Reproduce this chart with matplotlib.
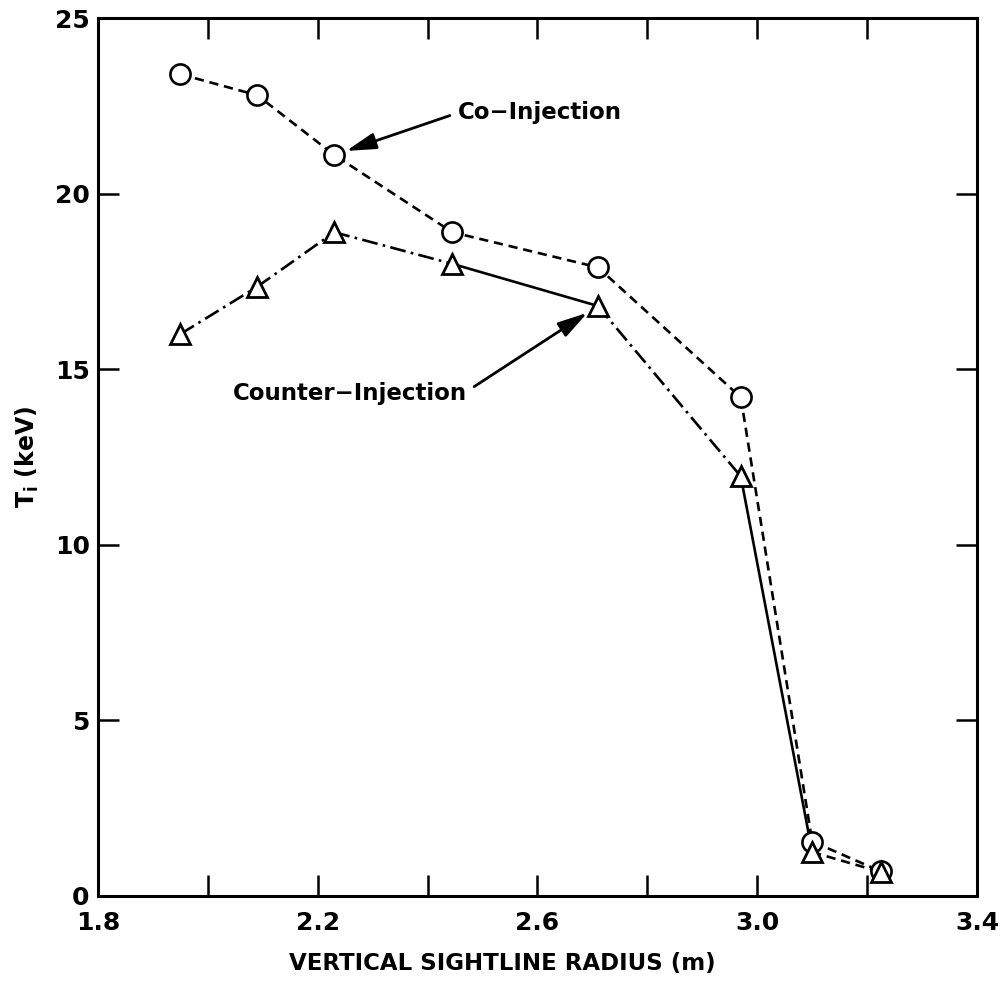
import numpy as np
import matplotlib
matplotlib.use("Agg")
import matplotlib.pyplot as plt

# -----------------------------
# Data: ion temperature profiles
# -----------------------------
radius = [1.95, 2.09, 2.23, 2.445, 2.71, 2.97, 3.10, 3.225]
ti_co = [23.4, 22.8, 21.1, 18.9, 17.9, 14.2, 1.55, 0.7]
ti_counter = [16.0, 17.35, 18.9, 18.0, 16.8, 11.95, 1.25, 0.68]

x_major = [1.8, 2.2, 2.6, 3.0, 3.4]
x_minor = [2.0, 2.4, 2.8, 3.2]
y_ticks = [0, 5, 10, 15, 20, 25]

# line style of each counter-injection segment (hand-drawn original mixes them)
counter_segments = ["dashdot", "dashdot", "dashdot", "solid", "dashdot", "solid", "dashed"]

plt.rcParams["font.family"] = "DejaVu Sans"
plt.rcParams["font.weight"] = "bold"

fig = plt.figure(figsize=(10.04, 9.85), dpi=100)
ax = fig.add_axes([0.0976, 0.0904, 0.8755, 0.8913])

lw = 1.9
dash_styles = {
    "dashed": dict(linestyle=(0, (3.5, 2.2))),
    "dashdot": dict(linestyle=(0, (6, 2, 1, 2))),
    "solid": dict(linestyle="-"),
}

# co-injection: dashed line, open circles
ax.plot(radius, ti_co, color="black", lw=lw, **dash_styles["dashed"], zorder=2)
ax.plot(radius, ti_co, linestyle="none", marker="o", markersize=14.5,
        markerfacecolor="white", markeredgecolor="black", markeredgewidth=1.9, zorder=3)

# counter-injection: segment by segment, open triangles
for i, style in enumerate(counter_segments):
    ax.plot(radius[i:i + 2], ti_counter[i:i + 2], color="black", lw=lw,
            **dash_styles[style], zorder=2)
ax.plot(radius, ti_counter, linestyle="none", marker="^", markersize=15,
        markerfacecolor="white", markeredgecolor="black", markeredgewidth=2.0, zorder=3)

# -----------------------------
# Axes styling
# -----------------------------
ax.set_xlim(1.8, 3.4)
ax.set_ylim(0, 25)

ax.set_xticks(x_major)
ax.set_xticklabels([f"{v:.1f}" for v in x_major])
ax.set_xticks(x_minor, minor=True)
ax.set_yticks(y_ticks)

ax.tick_params(axis="both", which="both", direction="in", top=True, right=True,
               length=15, width=1.8, labelsize=18)
ax.tick_params(axis="x", which="major", pad=11)
ax.tick_params(axis="y", which="major", pad=6)

for spine in ax.spines.values():
    spine.set_linewidth(2.2)

ax.set_xlabel("VERTICAL SIGHTLINE RADIUS (m)", fontsize=16.5, fontweight="bold",
              labelpad=12, x=0.46)
ax.set_ylabel(r"T$_\mathbf{i}$ (keV)", fontsize=17, fontweight="bold", labelpad=10)

# -----------------------------
# Curve labels with arrows
# -----------------------------
arrow_kw = dict(arrowstyle="-|>,head_length=1.1,head_width=0.3", color="black",
                lw=2.0, shrinkA=4, shrinkB=9)

ax.annotate("Co\u2212Injection", xy=(radius[2], ti_co[2]), xytext=(2.455, 22.3),
            fontsize=16.5, fontweight="bold", ha="left", va="center",
            arrowprops=dict(arrow_kw, relpos=(0, 0.5)))

ax.annotate("Counter\u2212Injection", xy=(radius[4], ti_counter[4]), xytext=(2.045, 14.3),
            fontsize=16.5, fontweight="bold", ha="left", va="center",
            arrowprops=dict(arrow_kw, relpos=(1, 0.6)))

fig.savefig("out.png", dpi=100)
